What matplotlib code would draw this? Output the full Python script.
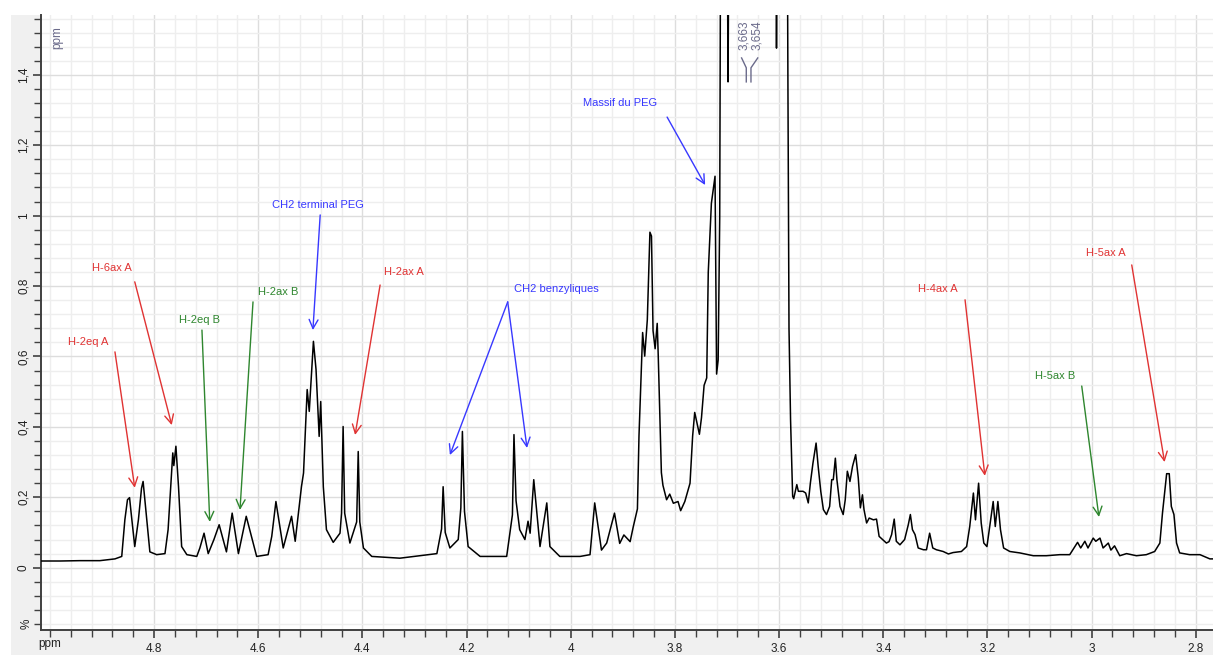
import matplotlib
matplotlib.use("Agg")
import matplotlib.pyplot as plt
from matplotlib.patches import Rectangle
from matplotlib.ticker import FixedLocator, FuncFormatter
import numpy as np

plt.rcParams['font.family'] = ['Liberation Sans', 'DejaVu Sans']

# spectrum trace (ppm, intensity)
ppm = [5.017, 4.980, 4.942, 4.904, 4.875, 4.862, 4.856, 4.851, 4.847, 4.844, 4.837,
       4.830, 4.824, 4.821, 4.817, 4.808, 4.795, 4.779, 4.773, 4.764, 4.762, 4.758,
       4.753, 4.747, 4.737, 4.718, 4.712, 4.704, 4.696, 4.685, 4.675, 4.661, 4.650,
       4.638, 4.623, 4.603, 4.581, 4.574, 4.566, 4.552, 4.536, 4.529, 4.517, 4.513,
       4.506, 4.502, 4.494, 4.489, 4.483, 4.480, 4.475, 4.469, 4.456, 4.443, 4.440,
       4.437, 4.434, 4.424, 4.411, 4.408, 4.405, 4.398, 4.382, 4.328, 4.257, 4.248,
       4.245, 4.241, 4.232, 4.216, 4.211, 4.208, 4.204, 4.197, 4.174, 4.123, 4.112,
       4.109, 4.105, 4.098, 4.088, 4.082, 4.078, 4.071, 4.059, 4.046, 4.040, 4.021,
       3.982, 3.963, 3.954, 3.941, 3.931, 3.916, 3.906, 3.898, 3.886, 3.880, 3.872,
       3.869, 3.862, 3.858, 3.853, 3.848, 3.845, 3.842, 3.838, 3.834, 3.832, 3.826,
       3.823, 3.816, 3.810, 3.803, 3.794, 3.789, 3.781, 3.771, 3.766, 3.762, 3.753,
       3.749, 3.744, 3.739, 3.736, 3.730, 3.723, 3.720, 3.717, 3.714, 3.710, 3.702,
       3.698, 3.694, 3.663, 3.654, 3.608, 3.605, 3.601, 3.586, 3.583, 3.581, 3.578,
       3.574, 3.572, 3.566, 3.563, 3.554, 3.549, 3.544, 3.540, 3.535, 3.529, 3.525,
       3.520, 3.515, 3.509, 3.503, 3.499, 3.496, 3.492, 3.489, 3.483, 3.477, 3.473,
       3.469, 3.464, 3.459, 3.453, 3.448, 3.444, 3.440, 3.437, 3.432, 3.427, 3.419,
       3.413, 3.408, 3.400, 3.394, 3.389, 3.384, 3.379, 3.375, 3.368, 3.359, 3.352,
       3.348, 3.344, 3.339, 3.333, 3.323, 3.317, 3.311, 3.305, 3.298, 3.285, 3.275,
       3.266, 3.250, 3.240, 3.234, 3.227, 3.223, 3.217, 3.212, 3.207, 3.201, 3.194,
       3.189, 3.185, 3.180, 3.175, 3.169, 3.157, 3.138, 3.112, 3.087, 3.061, 3.042,
       3.036, 3.027, 3.021, 3.013, 3.007, 2.997, 2.992, 2.984, 2.978, 2.968, 2.963,
       2.956, 2.946, 2.933, 2.914, 2.895, 2.879, 2.869, 2.864, 2.860, 2.856, 2.851,
       2.847, 2.842, 2.837, 2.831, 2.812, 2.792, 2.773, 2.767]
intensity = [0.019, 0.019, 0.020, 0.020, 0.025, 0.032, 0.136, 0.193, 0.199, 0.156, 0.060,
             0.136, 0.226, 0.245, 0.184, 0.045, 0.037, 0.040, 0.108, 0.326, 0.290, 0.345,
             0.230, 0.060, 0.037, 0.032, 0.056, 0.098, 0.040, 0.080, 0.122, 0.045, 0.155,
             0.040, 0.146, 0.032, 0.037, 0.089, 0.188, 0.056, 0.146, 0.075, 0.230, 0.269,
             0.506, 0.444, 0.643, 0.563, 0.373, 0.472, 0.230, 0.108, 0.072, 0.098, 0.155,
             0.401, 0.155, 0.070, 0.130, 0.330, 0.130, 0.056, 0.032, 0.027, 0.040, 0.110,
             0.230, 0.100, 0.056, 0.080, 0.170, 0.387, 0.160, 0.060, 0.032, 0.032, 0.150,
             0.378, 0.190, 0.108, 0.080, 0.132, 0.098, 0.250, 0.060, 0.184, 0.060, 0.032,
             0.032, 0.037, 0.184, 0.050, 0.070, 0.155, 0.069, 0.093, 0.074, 0.116, 0.167,
             0.374, 0.668, 0.601, 0.704, 0.953, 0.942, 0.673, 0.622, 0.694, 0.601, 0.270,
             0.234, 0.193, 0.209, 0.183, 0.188, 0.162, 0.188, 0.240, 0.374, 0.441, 0.379,
             0.426, 0.518, 0.539, 0.839, 1.035, 1.112, 0.550, 0.590, 0.994, 3.000, 2.500,
             1.380, 2.500, 6.000, 6.000, 2.500, 1.476, 2.500, 2.500, 1.355, 0.680, 0.420,
             0.203, 0.196, 0.236, 0.217, 0.217, 0.212, 0.184, 0.240, 0.297, 0.354, 0.288,
             0.217, 0.165, 0.151, 0.174, 0.250, 0.250, 0.311, 0.250, 0.174, 0.151, 0.193,
             0.274, 0.245, 0.288, 0.321, 0.255, 0.170, 0.207, 0.165, 0.127, 0.141, 0.136,
             0.138, 0.089, 0.078, 0.070, 0.074, 0.094, 0.138, 0.075, 0.065, 0.080, 0.122,
             0.151, 0.108, 0.094, 0.056, 0.051, 0.051, 0.098, 0.056, 0.051, 0.046, 0.039,
             0.043, 0.046, 0.060, 0.117, 0.212, 0.136, 0.240, 0.127, 0.070, 0.060, 0.136,
             0.188, 0.117, 0.188, 0.108, 0.056, 0.046, 0.042, 0.034, 0.034, 0.037, 0.037,
             0.051, 0.072, 0.056, 0.075, 0.056, 0.084, 0.075, 0.084, 0.056, 0.070, 0.050,
             0.062, 0.034, 0.040, 0.034, 0.037, 0.046, 0.070, 0.155, 0.212, 0.267, 0.267,
             0.174, 0.151, 0.070, 0.042, 0.037, 0.037, 0.025, 0.025]

x_ticks = [4.8, 4.6, 4.4, 4.2, 4.0, 3.8, 3.6, 3.4, 3.2, 3.0, 2.8]
y_ticks = [0, 0.2, 0.4, 0.6, 0.8, 1.0, 1.2, 1.4]
peak_labels = [3.663, 3.654]

# (label, colour, text position, arrow start(s), arrow end(s))
notes = [
    ("H-2eq A", "#e03333", (4.927, 0.641), [((4.875, 0.613), (4.837, 0.227))]),
    ("H-6ax A", "#e03333", (4.881, 0.851), [((4.837, 0.812), (4.766, 0.405))]),
    ("H-2eq B", "#2e862e", (4.712, 0.704), [((4.708, 0.675), (4.693, 0.130))]),
    ("H-2ax B", "#2e862e", (4.562, 0.783), [((4.610, 0.755), (4.635, 0.164))]),
    ("CH2 terminal PEG", "#3838ff", (4.485, 1.030), [((4.481, 1.002), (4.495, 0.675))]),
    ("H-2ax A", "#e03333", (4.320, 0.840), [((4.366, 0.803), (4.414, 0.377))]),
    ("CH2 benzyliques", "#3838ff", (4.028, 0.792), [((4.121, 0.755), (4.232, 0.320)),
                                                    ((4.121, 0.755), (4.084, 0.340))]),
    ("Massif du PEG", "#3838ff", (3.906, 1.320), [((3.815, 1.280), (3.742, 1.087))]),
    ("H-4ax A", "#e03333", (3.295, 0.792), [((3.243, 0.761), (3.205, 0.261))]),
    ("H-5ax B", "#2e862e", (3.071, 0.545), [((3.019, 0.516), (2.986, 0.144))]),
    ("H-5ax A", "#e03333", (2.973, 0.894), [((2.923, 0.860), (2.860, 0.300))]),
]

fig = plt.figure(figsize=(12.13, 6.55), dpi=100)
fig.patch.set_facecolor("white")
fig.add_artist(Rectangle((11 / 1213, 0), 1 - 11 / 1213, 640 / 655,
                         transform=fig.transFigure, facecolor="#f0f0f0",
                         edgecolor="none", zorder=0))

ax = fig.add_axes([41 / 1213, 25 / 655, 1 - 41 / 1213, 615 / 655])
ax.set_facecolor("white")
ax.set_xlim(5.017, 2.767)
ax.set_ylim(-0.177, 1.57)

ax.plot(ppm, intensity, color="black", lw=1.1, zorder=3)

# ticks and grid
ax.xaxis.set_major_locator(FixedLocator(x_ticks))
ax.xaxis.set_minor_locator(FixedLocator(np.round(np.arange(2.76, 5.02, 0.04), 2)))
ax.yaxis.set_major_locator(FixedLocator(y_ticks))
ax.yaxis.set_minor_locator(FixedLocator(np.round(np.arange(-0.16, 1.57, 0.04), 2)))
ax.xaxis.set_major_formatter(FuncFormatter(lambda v, p: f"{v:g}"))
ax.yaxis.set_major_formatter(FuncFormatter(lambda v, p: f"{v:g}".replace(".", ",")))
ax.grid(which="minor", color="#eeeeee", lw=1.0, zorder=0)
ax.grid(which="major", color="#dddddd", lw=1.0, zorder=0)
ax.set_axisbelow(True)
ax.tick_params(which="major", direction="out", length=6, width=1.2, color="#404040",
               labelsize=8.5, labelcolor="#222222")
ax.tick_params(which="minor", direction="out", length=5, width=1.0, color="#404040")
for lab in ax.get_yticklabels():
    lab.set_rotation(90)
    lab.set_va("center")
ax.tick_params(axis="y", pad=2)
ax.tick_params(axis="x", pad=3)
for s in ["top", "right"]:
    ax.spines[s].set_visible(False)
for s in ["left", "bottom"]:
    ax.spines[s].set_color("#404040")
    ax.spines[s].set_linewidth(1.4)

# unit labels
ax.text(-0.0075, -0.16, "%", transform=ax.get_yaxis_transform(), rotation=90,
        ha="right", va="center", fontsize=8.5, color="#222222")
ax.text(5.0, -0.013, "ppm", transform=ax.get_xaxis_transform(),
        ha="center", va="top", fontsize=8.5, color="#222222")
ax.text(4.986, 1.505, "ppm", rotation=90, ha="center", va="center",
        fontsize=8.5, color="#6a6a8a")

# peak labels at the top of the PEG peak
lab_x = [3.6680, 3.6430]
for px, lx in zip(peak_labels, lab_x):
    ax.text(lx, 1.555, f"{px:.3f}".replace(".", ","), rotation=90, ha="center",
            va="top", fontsize=8.5, color="#6a6a8a", zorder=5)
    ax.plot([lx + (0.004 if lx > px else -0.002), px, px], [1.448, 1.420, 1.380],
            color="#6a6a8a", lw=1.0, zorder=5)

# annotations
for text, col, tpos, arrows in notes:
    ax.text(tpos[0], tpos[1], text, color=col, fontsize=8, ha="center",
            va="center", zorder=6)
    for start, end in arrows:
        ax.annotate("", xy=end, xytext=start,
                    arrowprops=dict(arrowstyle="->", color=col, lw=1.0,
                                    mutation_scale=16, shrinkA=0, shrinkB=0),
                    zorder=6)

fig.savefig("out.png", dpi=100)
